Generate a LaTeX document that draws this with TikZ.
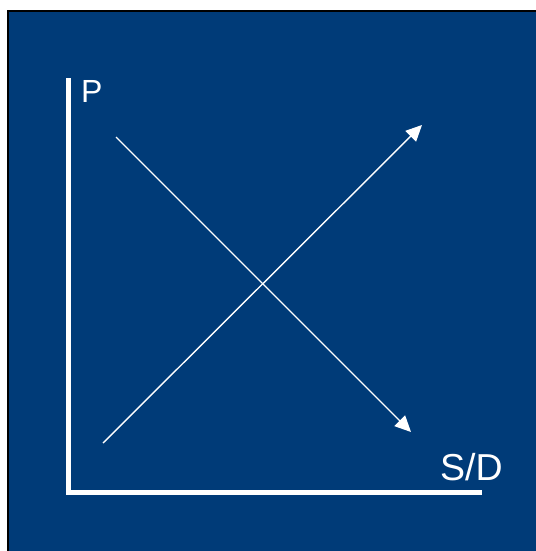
\documentclass[tikz,border=0pt]{standalone}
\usepackage{fontspec}
\setmainfont{Liberation Sans}
\usetikzlibrary{arrows.meta}
\definecolor{bgblue}{RGB}{0,59,120}
\begin{document}
\begin{tikzpicture}[x=1pt,y=-1pt,
  axis/.style={white,line width=5pt},
  curve/.style={white,line width=1.4pt,-{Triangle[length=16pt,width=15pt]}},
  lbl/.style={white,inner sep=0pt}]
\useasboundingbox (0,0) rectangle (535,551);
\fill[white] (-5,-5) rectangle (545,560);
\fill[bgblue] (8,11) rectangle (545,560);
\draw[black,line width=1.5pt] (8,560) -- (8,11) -- (545,11);
\coordinate (top) at (68,78);
\coordinate (origin) at (68,492);
\coordinate (right) at (482,492);
\draw[axis] (top) -- (origin.center) -- (right);
\coordinate (d1) at (116,137);
\coordinate (d2) at (411,432);
\coordinate (s1) at (103,443);
\coordinate (s2) at (422,125);
\draw[curve] (d1) -- (d2);
\draw[curve] (s1) -- (s2);
\node[lbl,anchor=north west,font=\fontsize{32}{32}\selectfont] (P) at (81,80) {P};
\node[lbl,anchor=north west,font=\fontsize{37.5}{37.5}\selectfont] (SD) at (440,453) {S/D};
\end{tikzpicture}
\end{document}
